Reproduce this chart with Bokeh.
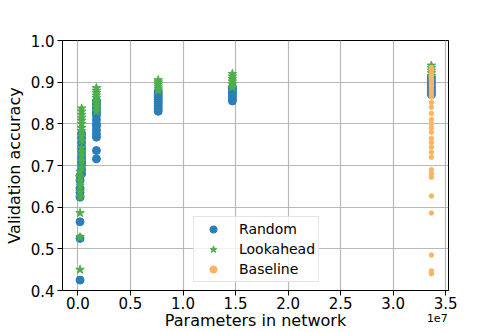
from bokeh.plotting import figure
from bokeh.models import Range1d, FixedTicker, CustomJSTickFormatter, LinearAxis
from bokeh.embed import file_html
from bokeh.resources import INLINE

# ---- data ----
random_params = ([2.0e5] * 8 + [3.5e5] * 11 + [1.76e6] * 15 + [7.64e6] * 10
                 + [1.47e7] * 7 + [3.364e7] * 8)
random_acc = [0.425, 0.525, 0.565, 0.624, 0.635, 0.645, 0.664, 0.675,
              0.68, 0.69, 0.70, 0.708, 0.715, 0.724, 0.735, 0.744, 0.755, 0.766, 0.776,
              0.716, 0.736, 0.768, 0.776, 0.785, 0.795, 0.80, 0.81, 0.82, 0.826, 0.833,
              0.84, 0.846, 0.852, 0.855,
              0.83, 0.836, 0.842, 0.848, 0.853, 0.858, 0.863, 0.868, 0.873, 0.878,
              0.855, 0.86, 0.866, 0.872, 0.877, 0.882, 0.887,
              0.87, 0.876, 0.882, 0.888, 0.894, 0.90, 0.906, 0.912]

lookahead_params = ([2.0e5] * 9 + [3.5e5] * 15 + [1.76e6] * 9 + [7.64e6] * 6
                    + [1.47e7] * 6 + [3.364e7] * 5)
lookahead_acc = [0.45, 0.528, 0.586, 0.624, 0.637, 0.652, 0.662, 0.672, 0.685,
                 0.695, 0.71, 0.722, 0.732, 0.742, 0.76, 0.77, 0.783, 0.79, 0.80,
                 0.808, 0.815, 0.822, 0.83, 0.837,
                 0.83, 0.84, 0.848, 0.855, 0.862, 0.868, 0.874, 0.88, 0.886,
                 0.88, 0.885, 0.89, 0.895, 0.90, 0.905,
                 0.888, 0.895, 0.902, 0.908, 0.914, 0.92,
                 0.915, 0.922, 0.928, 0.934, 0.94]

baseline_acc = [0.935, 0.93, 0.925, 0.92, 0.915, 0.91, 0.905, 0.90, 0.895, 0.89,
                0.885, 0.88, 0.875, 0.87, 0.865, 0.851, 0.84, 0.825, 0.81, 0.80,
                0.79, 0.78, 0.765, 0.755, 0.744, 0.732, 0.72, 0.69, 0.68, 0.672,
                0.627, 0.586, 0.485, 0.447, 0.44]
baseline_params = [3.364e7] * len(baseline_acc)

x_ticks = [0, 5e6, 1e7, 1.5e7, 2e7, 2.5e7, 3e7, 3.5e7]
y_ticks = [0.4, 0.5, 0.6, 0.7, 0.8, 0.9, 1.0]
offset_text = "1e7"
offset_pos = [3.42e7]

BLUE = "#2b7fb8"
GREEN = "#4daf4a"
ORANGE = "#fdb462"
FONT = "DejaVu Sans"

p = figure(width=498, height=332, output_backend="svg", toolbar_location=None,
           x_range=Range1d(-1.47e6, 3.527e7), y_range=Range1d(0.4, 1.0),
           min_border_left=62, min_border_right=50, min_border_top=40,
           min_border_bottom=41)

p.scatter(random_params, random_acc, marker="circle", size=8, color=BLUE,
          legend_label="Random")
p.scatter(lookahead_params, lookahead_acc, marker="star", size=9, color=GREEN,
          legend_label="Lookahead")
p.scatter(baseline_params, baseline_acc, marker="circle", size=4.5, color=ORANGE,
          legend_label="Baseline")

p.outline_line_color = "black"
p.outline_line_width = 1
p.outline_line_alpha = 1

for ax in (p.xaxis[0], p.yaxis[0]):
    ax.axis_line_color = "black"
    ax.major_tick_line_color = "black"
    ax.major_tick_in = 0
    ax.major_tick_out = 5
    ax.minor_tick_line_color = None
    ax.major_label_text_font = FONT
    ax.major_label_text_font_size = "15px"
    ax.major_label_text_color = "black"
    ax.axis_label_text_font = FONT
    ax.axis_label_text_font_size = "16px"
    ax.axis_label_text_font_style = "normal"
    ax.axis_label_text_color = "black"

p.xaxis[0].ticker = FixedTicker(ticks=x_ticks)
p.yaxis[0].ticker = FixedTicker(ticks=y_ticks)
p.xaxis[0].formatter = CustomJSTickFormatter(code="return (tick/1e7).toFixed(1);")
p.yaxis[0].formatter = CustomJSTickFormatter(code="return tick.toFixed(1);")
p.xaxis[0].major_label_standoff = 1
p.yaxis[0].axis_label = "Validation accuracy"
p.yaxis[0].major_label_standoff = 3
p.yaxis[0].axis_label_standoff = 4

# second, bare axis below: carries the offset text "1e7" and the axis title
ax2 = LinearAxis(ticker=FixedTicker(ticks=offset_pos),
                 formatter=CustomJSTickFormatter(code="return '%s';" % offset_text),
                 axis_line_color=None, major_tick_line_color=None,
                 minor_tick_line_color=None, major_tick_in=0, major_tick_out=0,
                 major_label_standoff=2,
                 major_label_text_font=FONT, major_label_text_font_size="11px",
                 major_label_text_color="black",
                 axis_label="Parameters in network", axis_label_standoff=-14,
                 axis_label_text_font=FONT, axis_label_text_font_size="16px",
                 axis_label_text_font_style="normal", axis_label_text_color="black")
p.add_layout(ax2, "below")

p.grid.grid_line_color = "#b0b0b0"
p.grid.grid_line_width = 1.2
p.grid.grid_line_alpha = 0.9

lg = p.legend[0]
lg.location = (131, 8)
lg.padding = 3
lg.glyph_width = 32
lg.glyph_height = 18
lg.label_height = 18
lg.label_standoff = 10
lg.spacing = 2
lg.margin = 0
lg.label_text_font = FONT
lg.label_text_font_size = "14px"
lg.label_text_color = "black"
lg.border_line_color = "#cccccc"
lg.border_line_width = 1
lg.background_fill_alpha = 0.8

open("out.html", "w").write(file_html(p, INLINE))
